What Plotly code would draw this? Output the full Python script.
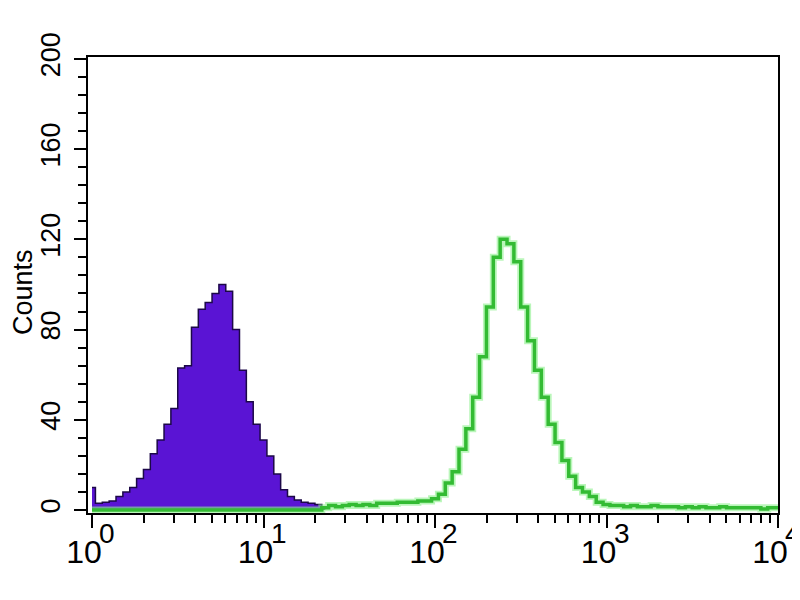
import numpy as np
import plotly.graph_objects as go

# log10 channel grid (decades), bin width 0.04
bin_width = 0.04

# Negative control (purple, filled) starting at log10 = 0.00
purple_start = 0.00
purple_counts = [10, 3, 3.5, 4, 6, 8, 10, 14, 18, 25, 31, 38, 45, 63, 64, 81, 89, 92,
                 96, 100, 97, 80, 62, 48, 38, 31, 24, 16, 9, 6, 4.5, 3.5, 3, 2.5, 1.5]

# Stained sample (green outline) starting at log10 = 0.00
green_start = 0.00
green_counts = [0] * 34 + [
    1, 2, 1.5, 2, 2.5, 2, 2.5, 2, 3, 3, 3, 3.5, 3.5, 3.5, 4, 4, 5, 7, 12, 17, 27, 36,
    50, 68, 90, 112, 120, 118, 110, 90, 75, 62, 50, 38, 30, 22, 15, 10, 8, 6, 3.5, 2.5,
    2, 2, 1.5, 2, 1.5, 1.5, 2, 1.5, 1.5, 1.5, 1, 1.5, 1, 1.5, 1, 1, 1.5, 1, 1, 1, 1, 1,
    0.5, 1, 1]

x_tickvals = [1, 10, 100, 1000, 10000]
x_base_text = ["10", "10", "10", "10", "10"]
x_exponents = ["0", "1", "2", "3", "4"]
y_tickvals = [0, 40, 80, 120, 160, 200]

px = 10 ** (purple_start + bin_width * np.arange(len(purple_counts)))
gx = 10 ** (green_start + bin_width * np.arange(len(green_counts)))

fig = go.Figure()
fig.add_trace(go.Scatter(x=px, y=purple_counts, mode="lines", line_shape="hvh",
                         fill="tozeroy", fillcolor="#5a14d4",
                         line=dict(color="#1c0848", width=1.5), hoverinfo="skip"))
fig.add_trace(go.Scatter(x=gx, y=green_counts, mode="lines", line_shape="hvh",
                         line=dict(color="rgba(140,240,140,0.6)", width=7), hoverinfo="skip"))
fig.add_trace(go.Scatter(x=gx, y=green_counts, mode="lines", line_shape="hvh",
                         line=dict(color="#33bb33", width=3.5), hoverinfo="skip"))

font = "Liberation Sans, Arial, sans-serif"
narrow = "Liberation Sans Narrow, Arial Narrow, Liberation Sans, sans-serif"
annotations = [dict(text="Counts", textangle=-90, xref="paper", yref="paper",
                    x=-0.094, y=0.485, xanchor="center", yanchor="middle", borderpad=0,
                    showarrow=False, font=dict(family=font, size=27, color="black"))]
for v, e in zip(x_tickvals, x_exponents):
    annotations.append(dict(text=e, xref="x", yref="paper", x=np.log10(v), y=-0.044,
                            xanchor="center", yanchor="middle", xshift=15,
                            showarrow=False, font=dict(family=narrow, size=28, color="black")))

fig.update_layout(
    width=800, height=600, showlegend=False,
    plot_bgcolor="white", paper_bgcolor="white",
    margin=dict(l=80, r=30, t=49, b=95),
    xaxis=dict(type="log", range=[-0.0233, 4.0], tickvals=x_tickvals, ticktext=x_base_text,
               automargin=False, ticklabeloverflow="allow",
               showline=True, linecolor="black", linewidth=2, mirror=True,
               ticks="outside", ticklen=13, tickwidth=2, tickcolor="black",
               showgrid=False, zeroline=False, ticklabelshift=-8, ticklabelstandoff=-3,
               tickfont=dict(family=narrow, size=32, color="black"),
               minor=dict(dtick="D1", ticks="outside", ticklen=8, tickwidth=2,
                          tickcolor="black", showgrid=False)),
    yaxis=dict(range=[-1.3, 200.8], tickvals=y_tickvals, automargin=False,
               showline=True, linecolor="black", linewidth=2, mirror=True,
               ticks="outside", ticklen=12, tickwidth=2, tickcolor="black",
               showgrid=False, zeroline=False, tickangle=-90,
               ticklabelstandoff=3,
               tickfont=dict(family=font, size=27, color="black"),
               minor=dict(dtick=8, ticks="outside", ticklen=8, tickwidth=2,
                          tickcolor="black", showgrid=False)),
    annotations=annotations,
)

fig.write_html("out.html")
